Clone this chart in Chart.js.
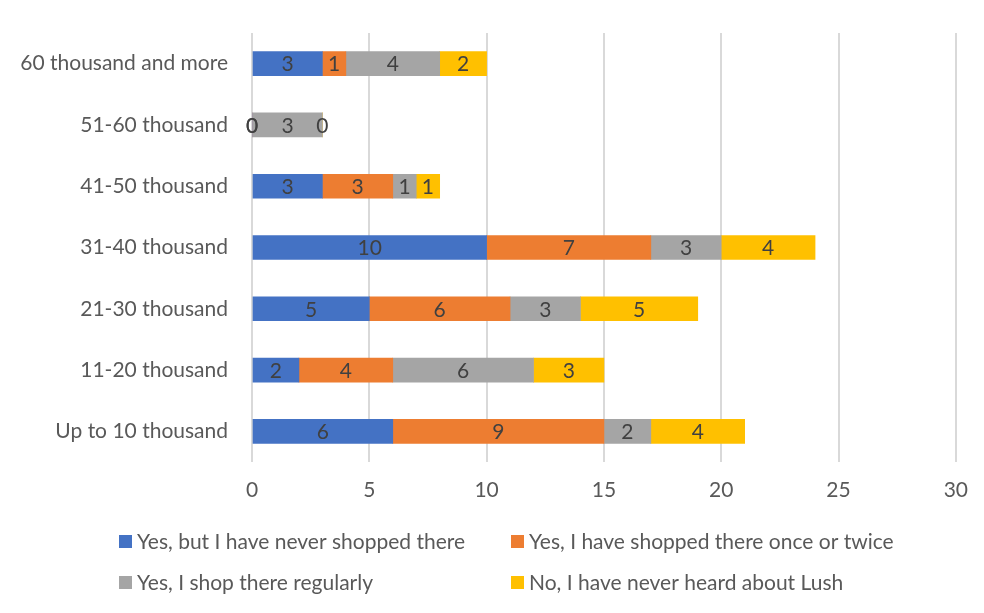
<!DOCTYPE html>
<html>
<head>
<meta charset="utf-8">
<script src="https://cdn.jsdelivr.net/npm/chart.js@4"></script>
<style>
    html, body { margin: 0; padding: 0; background: #fff; }
    #wrap { width: 984px; height: 613px; }
</style>
</head>
<body>
<div id="wrap"><canvas id="lushChart" width="984" height="613"></canvas></div>
<script>
// income groups, top to bottom
var incomeGroups = ['60 thousand and more', '51-60 thousand', '41-50 thousand', '31-40 thousand',
    '21-30 thousand', '11-20 thousand', 'Up to 10 thousand'];

var seriesNames = ['Yes, but I have never shopped there', 'Yes, I have shopped there once or twice',
    'Yes, I shop there regularly', 'No, I have never heard about Lush'];

var neverShopped = [3, 0, 3, 10, 5, 2, 6];
var onceOrTwice = [1, 0, 3, 7, 6, 4, 9];
var regularly = [4, 3, 1, 3, 3, 6, 2];
var neverHeard = [2, 0, 1, 4, 5, 3, 4];

var xTicks = [0, 5, 10, 15, 20, 25, 30];

var seriesColors = ['#4472C4', '#ED7D31', '#A5A5A5', '#FFC000'];
var fontFamily = 'Lato, "Open Sans", sans-serif';

// values written in the middle of each bar piece
var barLabels = {
    id: 'barLabels',
    afterDatasetsDraw: function (chart) {
        var ctx = chart.ctx;
        ctx.save();
        ctx.font = '21px ' + fontFamily;
        ctx.fillStyle = '#404040';
        ctx.textAlign = 'center';
        ctx.textBaseline = 'middle';
        chart.data.datasets.forEach(function (ds, i) {
            chart.getDatasetMeta(i).data.forEach(function (bar, j) {
                var p = bar.getProps(['x', 'y', 'base'], true);
                ctx.fillText(ds.data[j], (p.x + p.base) / 2, p.y + 1);
            });
        });
        ctx.restore();
    }
};

// two column legend like the original
var gridLegend = {
    id: 'gridLegend',
    afterDraw: function (chart) {
        var ctx = chart.ctx;
        var cols = [119, 511];
        var rows = [542, 583];
        ctx.save();
        ctx.font = '21px ' + fontFamily;
        ctx.textBaseline = 'middle';
        ctx.textAlign = 'left';
        chart.data.datasets.forEach(function (ds, i) {
            var x = cols[i % 2];
            var y = rows[Math.floor(i / 2)];
            ctx.fillStyle = ds.backgroundColor;
            ctx.fillRect(x, y - 7, 13, 13);
            ctx.fillStyle = '#595959';
            ctx.fillText(ds.label, x + 18, y);
        });
        ctx.restore();
    }
};

var seriesData = [neverShopped, onceOrTwice, regularly, neverHeard];

new Chart(document.getElementById('lushChart'), {
    type: 'bar',
    data: {
        labels: incomeGroups,
        datasets: seriesData.map(function (values, i) {
            return {
                label: seriesNames[i],
                data: values,
                backgroundColor: seriesColors[i],
                borderWidth: 0,
                barThickness: 24
            };
        })
    },
    options: {
        indexAxis: 'y',
        responsive: false,
        animation: false,
        layout: { padding: { top: 33, right: 26, bottom: 100, left: 0 } },
        plugins: {
            legend: { display: false },
            tooltip: { enabled: false }
        },
        scales: {
            x: {
                stacked: true,
                min: 0,
                max: 30,
                afterBuildTicks: function (scale) {
                    scale.ticks = xTicks.map(function (v) { return { value: v }; });
                },
                afterFit: function (scale) { scale.height = 51; },
                grid: { color: '#D9D9D9', lineWidth: 2, drawTicks: false },
                border: { display: false },
                ticks: {
                    color: '#595959',
                    padding: 16,
                    font: { family: fontFamily, size: 21 }
                }
            },
            y: {
                stacked: true,
                afterFit: function (scale) { scale.width = 252; },
                grid: { display: false },
                border: { display: false },
                ticks: {
                    color: '#595959',
                    padding: 16,
                    font: { family: fontFamily, size: 21 }
                }
            }
        }
    },
    plugins: [barLabels, gridLegend]
});
</script>
</body>
</html>
